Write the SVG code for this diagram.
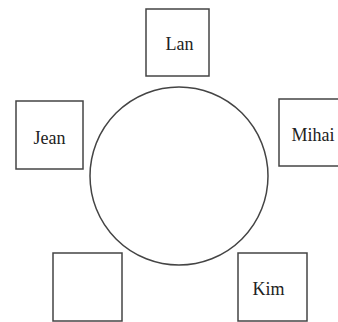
<svg xmlns="http://www.w3.org/2000/svg" width="338" height="322" viewBox="0 0 338 322">
<style>
.b{fill:#fff;stroke:#444;stroke-width:1.5}
.t{font-family:"Liberation Serif",serif;font-size:18px;fill:#222;text-anchor:middle}
</style>
<rect width="338" height="322" fill="#fff"/>
<g id="table"><circle class="b" cx="179" cy="176" r="89"/></g>
<g id="lan"><rect class="b" x="146" y="9" width="63" height="67"/><text class="t" x="179.5" y="50">Lan</text></g>
<g id="jean"><rect class="b" x="16" y="101" width="67" height="68"/><text class="t" x="49.5" y="143.5">Jean</text></g>
<g id="mihai"><rect class="b" x="279" y="99" width="68" height="67"/><text class="t" x="313" y="140.5">Mihai</text></g>
<g id="empty"><rect class="b" x="53" y="253" width="69" height="68"/></g>
<g id="kim"><rect class="b" x="238" y="253" width="69" height="68"/><text class="t" x="268.5" y="294.5">Kim</text></g>
<g id="connectors"></g>
</svg>
